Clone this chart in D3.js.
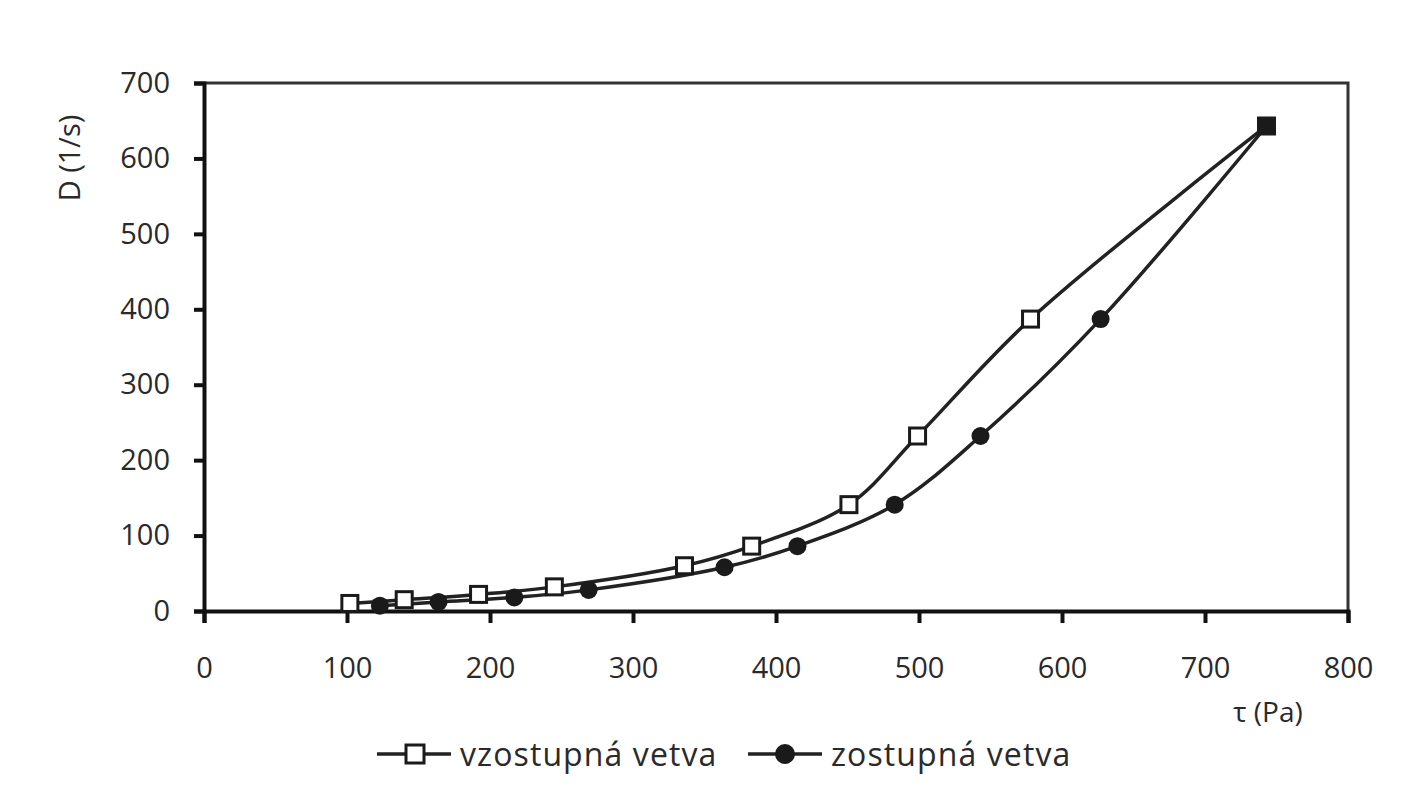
<!DOCTYPE html>
<html><head><meta charset="utf-8">
<script src="https://cdn.jsdelivr.net/npm/d3@7"></script>
<style>body{margin:0;background:#fff}svg{display:block}text{font-family:"Open Sans","DejaVu Sans",sans-serif;fill:#2a2a2a}</style>
</head><body><svg id="c" width="1412" height="800"></svg>
<script>
const ascX = [102, 140, 192, 245, 336, 383, 451, 499, 578, 743];
const ascY = [10, 15, 22, 32, 60, 86, 141, 232, 387, 643];
const descX = [123, 164, 217, 269, 364, 415, 483, 543, 627, 743];
const descY = [7, 12, 18, 28, 58, 86, 141, 232, 387, 643];
const xTicks = [0,100,200,300,400,500,600,700,800];
const yTicks = [0,100,200,300,400,500,600,700];
const seriesNames = ["vzostupná vetva","zostupná vetva"];

const svg = d3.select("#c");
const m = {l:204, r:1348, t:83, b:611};
const x = d3.scaleLinear().domain([0,800]).range([m.l,m.r]);
const y = d3.scaleLinear().domain([0,700]).range([m.b,m.t]);
const FONT = '"Open Sans","DejaVu Sans",sans-serif';

// frame top/right
svg.append("path").attr("d",`M${m.l},${m.t}H${m.r}V${m.b}`).attr("fill","none").attr("stroke","#333").attr("stroke-width",3);

const xa = svg.append("g").attr("transform",`translate(0,${m.b})`).call(d3.axisBottom(x).tickValues(xTicks).tickSize(12).tickPadding(34));
const ya = svg.append("g").attr("transform",`translate(${m.l},0)`).call(d3.axisLeft(y).tickValues(yTicks).tickSize(10).tickPadding(24));
[xa,ya].forEach(a=>{
  a.select(".domain").attr("stroke","#111").attr("stroke-width",4);
  a.selectAll(".tick line").attr("stroke","#111").attr("stroke-width",4);
  a.selectAll(".tick text").attr("font-size",29).attr("fill","#2a2a2a").style("font-family",FONT);
});

svg.append("text").attr("transform","translate(80,158) rotate(-90)").attr("text-anchor","middle").attr("font-size",29).text("D (1/s)");
svg.append("text").attr("x",1268).attr("y",722).attr("text-anchor","middle").attr("font-size",28).text("τ (Pa)");

const line = d3.line().x(d=>x(d[0])).y(d=>y(d[1])).curve(d3.curveCatmullRom.alpha(0.5));
const asc = ascX.map((v,i)=>[v,ascY[i]]);
const desc = descX.map((v,i)=>[v,descY[i]]);

svg.append("path").datum(desc).attr("d",line).attr("fill","none").attr("stroke","#222").attr("stroke-width",3.5);
svg.append("path").datum(asc).attr("d",line).attr("fill","none").attr("stroke","#222").attr("stroke-width",3.5);

svg.selectAll(".dc").data(desc).join("circle").attr("cx",d=>x(d[0])).attr("cy",d=>y(d[1])).attr("r",9).attr("fill","#1a1a1a");
svg.selectAll(".sq").data(asc).join("rect").attr("x",d=>x(d[0])-8).attr("y",d=>y(d[1])-8).attr("width",16).attr("height",16)
  .attr("fill",(d,i)=>i===asc.length-1?"#1a1a1a":"#fff").attr("stroke","#1a1a1a").attr("stroke-width",3);

// legend
const lg = svg.append("g");
const items = [{x:377, t:seriesNames[0], sym:"sq"},{x:748, t:seriesNames[1], sym:"ci"}];
items.forEach(it=>{
  const ly = 754;
  lg.append("line").attr("x1",it.x).attr("x2",it.x+74).attr("y1",ly).attr("y2",ly).attr("stroke","#222").attr("stroke-width",3.5);
  if(it.sym==="sq") lg.append("rect").attr("x",it.x+29).attr("y",ly-9).attr("width",18).attr("height",18).attr("fill","#fff").attr("stroke","#1a1a1a").attr("stroke-width",3);
  else lg.append("circle").attr("cx",it.x+37).attr("cy",ly).attr("r",10).attr("fill","#1a1a1a");
  lg.append("text").attr("x",it.x+83).attr("y",ly+12).attr("font-size",32).attr("letter-spacing",1.1).text(it.t);
});
</script></body></html>
